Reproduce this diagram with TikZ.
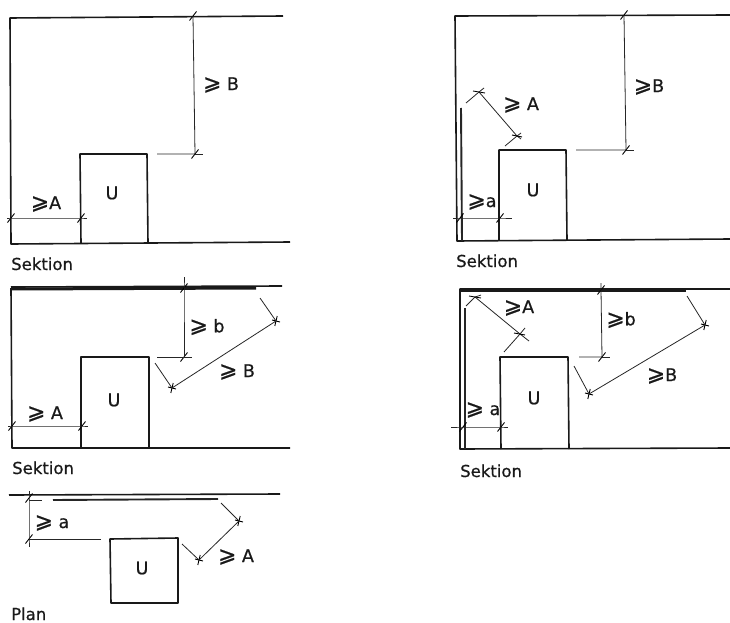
\documentclass[tikz,border=0pt]{standalone}
\usepackage{fontspec}
\setmainfont[FakeBold=0.7]{DejaVu Sans}
\newfontfamily\gsfont[FakeBold=0.7,Scale=1.25]{DejaVu Sans}
\newcommand{\gs}{{\gsfont ⩾}}
\newcommand{\tk}[2]{\coordinate (#1) at (#2); \draw[tickmark] ([shift={(-3.5,4.5)}]#1) -- ([shift={(3.5,-4.5)}]#1);}
\newcommand{\tkv}[2]{\coordinate (#1) at (#2); \draw[tickmark] ([shift={(-1.2,5)}]#1) -- ([shift={(1.2,-5)}]#1); \draw[tickmark] ([shift={(-4,-1)}]#1) -- ([shift={(4,1)}]#1);}
\tikzset{
  wall/.style={line width=1.6pt,black!90,line join=round},
  heavy/.style={line width=3pt,black!90},
  mid/.style={line width=1.9pt,black!85},
  dimln/.style={line width=0.8pt,black!85},
  tickmark/.style={line width=0.9pt,black},
  lab/.style={inner sep=0pt,font=\fontsize{17.5}{19}\selectfont,text=black!90},
  captext/.style={inner sep=0pt,anchor=base west,font=\fontsize{16.5}{18}\selectfont,text=black!90},
}
\begin{document}
\begin{tikzpicture}[x=1pt,y=-1pt]
\useasboundingbox (0,0) rectangle (730,623);

% Panel 1
\draw[wall] (283,16) -- (10,18) -- (11,244) -- (290,242);
\draw[wall] (81,243) -- (80,154) -- (147,154) -- (148,243);
\node[lab] (u1) at (112,193) {U};
\tk{p1a}{11,218} \tk{p1b}{81,218}
\draw[dimln] (7,218) -- (p1a) -- (p1b) -- (87,218);
\tk{p1c}{193,16} \tk{p1d}{195,154}
\draw[dimln] (p1c) -- (p1d) -- (157,154);
\draw[dimln] (p1d) -- (203,154);
\node[lab] (p1A) at (46,204) {\gs A};
\node[lab] (p1B) at (221,85) {\gs\ B};
\node[captext] (p1s) at (11,270) {Sektion};

% Panel 2
\draw[wall] (730,15) -- (455,16) -- (457,241) -- (730,239);
\draw[mid] (461,108) -- (462,241);
\draw[wall] (499,240) -- (499,150) -- (566,150) -- (567,240);
\node[lab] (u2) at (533,190) {U};
\tk{p2a}{460,218} \tk{p2b}{500,218}
\draw[dimln] (453,218) -- (p2a) -- (p2b) -- (512,218);
\tk{p2c}{624,15} \tk{p2d}{626,150}
\draw[dimln] (p2c) -- (p2d) -- (576,150);
\draw[dimln] (p2d) -- (634,150);
\coordinate (p2e) at (479,92); \coordinate (p2f) at (517,136);
\draw[dimln] (466,103) -- (p2e) -- (484,88);
\draw[dimln] (505,146) -- (p2f) -- (521,133);
\draw[dimln] (p2e) -- (p2f) -- (521,139);
\draw[tickmark] (473,91) -- (485,93);
\draw[tickmark] (512,135) -- (522,137);
\node[lab] (p2A) at (521,105) {\gs\ A};
\node[lab] (p2B) at (649,87) {\gs B};
\node[lab] (p2a1) at (482,202) {\gs a};
\node[captext] (p2s) at (456,267) {Sektion};

% Panel 3
\draw[wall] (282,286) -- (11,287);
\draw[heavy] (11,289) -- (256,288);
\draw[wall] (11,288) -- (12,448) -- (290,448);
\draw[wall] (81,448) -- (81,357) -- (149,357) -- (149,448);
\node[lab] (u3) at (114,400) {U};
\tk{p3a}{12,426} \tk{p3b}{82,426}
\draw[dimln] (8,426) -- (p3a) -- (p3b) -- (88,426);
\tk{p3c}{184,288} \tk{p3d}{184,357}
\draw[dimln] (184,277) -- (p3c) -- (p3d) -- (157,357);
\draw[dimln] (p3d) -- (192,357);
\tkv{p3e}{172,388} \tkv{p3f}{276,321}
\draw[dimln] (155,363) -- (p3e) -- (p3f) -- (260,298);
\node[lab] (p3A) at (45,414) {\gs\ A};
\node[lab] (p3b1) at (207,327) {\gs\ b};
\node[lab] (p3B) at (237,372) {\gs\ B};
\node[captext] (p3s) at (12,474) {Sektion};

% Panel 4
\draw[wall] (730,289) -- (460,289) -- (460,449) -- (730,448);
\draw[heavy] (460,290) -- (686,290);
\draw[mid] (465,308) -- (465,449);
\draw[wall] (501,449) -- (500,357) -- (568,357) -- (569,449);
\node[lab] (u4) at (534,398) {U};
\tk{p4a}{463,427} \tk{p4b}{501,427}
\draw[dimln] (451,427) -- (p4a) -- (p4b) -- (508,427);
\tk{p4c}{601,290} \tk{p4d}{602,357}
\draw[dimln] (601,283) -- (p4c) -- (p4d) -- (579,357);
\draw[dimln] (p4d) -- (610,357);
\coordinate (p4e) at (475,297); \coordinate (p4f) at (520,334);
\draw[dimln] (466,306) -- (p4e) -- (481,295);
\draw[dimln] (504,352) -- (p4f) -- (525,328);
\draw[dimln] (p4e) -- (p4f) -- (529,341);
\draw[tickmark] (469,296) -- (481,298);
\draw[tickmark] (514,333) -- (525,335);
\tkv{p4g}{589,394} \tkv{p4h}{705,325}
\draw[dimln] (574,366) -- (p4g) -- (p4h) -- (687,296);
\node[lab] (p4A) at (519,308) {\gs A};
\node[lab] (p4b1) at (621,320) {\gs b};
\node[lab] (p4B) at (662,376) {\gs B};
\node[lab] (p4a1) at (483,410) {\gs\ a};
\node[captext] (p4s) at (460,477) {Sektion};

% Panel 5
\draw[wall] (9,495) -- (280,494);
\draw[mid] (53,500) -- (218,499);
\draw[wall] (110,539) -- (178,538) -- (178,603) -- (111,603) -- cycle;
\node[lab] (u5) at (142,568) {U};
\tk{p5a}{29,498} \tk{p5b}{29,539}
\draw[dimln] (29,491) -- (p5a) -- (p5b) -- (29,547);
\draw[dimln] (p5b) -- (101,539);
\draw[dimln] (29,500) -- (42,500);
\tkv{p5c}{199,560} \tkv{p5d}{239,521}
\draw[dimln] (182,544) -- (p5c) -- (p5d) -- (221,503);
\node[lab] (p5a1) at (52,523) {\gs\ a};
\node[lab] (p5A) at (236,557) {\gs\ A};
\node[captext] (p5s) at (11,620) {Plan};
\end{tikzpicture}
\end{document}
